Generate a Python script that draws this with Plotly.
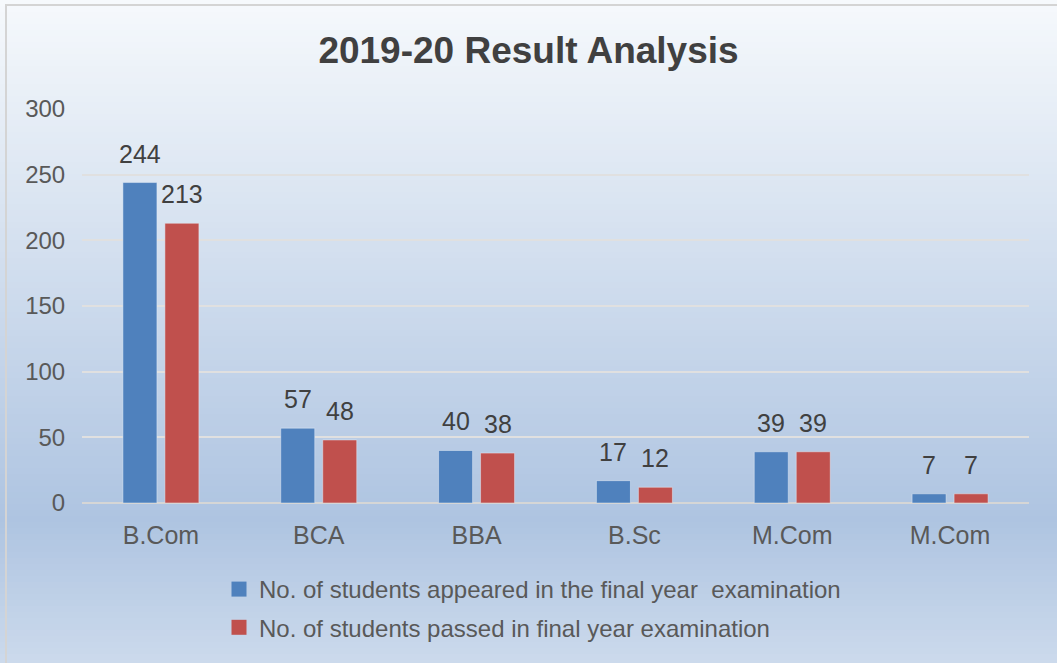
import plotly.graph_objects as go

categories = ["B.Com", "BCA", "BBA", "B.Sc", "M.Com", "M.Com"]
appeared = [244, 57, 40, 17, 39, 7]
passed = [213, 48, 38, 12, 39, 7]
series_names = [
    "No. of students appeared in the final year  examination",
    "No. of students passed in final year examination",
]
y_ticks = [0, 50, 100, 150, 200, 250, 300]

BLUE = "#4f81bd"
RED = "#c0504d"
W, H = 1057, 663
ML, MR, MT, MB = 82, 28, 109, 160
PW, PH = W - ML - MR, H - MT - MB

def px_x(px):
    return (px - ML) / PW

def px_y(py):
    return (H - MB - py) / PH

xpos = list(range(len(categories)))

fig = go.Figure()
fig.add_trace(go.Bar(x=xpos, y=appeared, name=series_names[0], marker_color=BLUE,
                     showlegend=False))
fig.add_trace(go.Bar(x=xpos, y=passed, name=series_names[1], marker_color=RED,
                     showlegend=False))
# legend entries with square markers
for name, col, grp in ((series_names[0], BLUE, "a"), (series_names[1], RED, "b")):
    fig.add_trace(go.Scatter(x=[None], y=[None], mode="markers", name=name,
                             marker=dict(symbol="square", size=15, color=col),
                             legendgroup=grp, showlegend=True))

annotations = []
for series, shift in ((appeared, -21), (passed, 21)):
    for xi, v in zip(xpos, series):
        annotations.append(dict(x=xi, y=v, xref="x", yref="y", text=str(v), showarrow=False,
                                xshift=shift, yshift=29, yanchor="middle",
                                font=dict(size=25, color="#404040")))

# background gradient
stops = [(0, (246, 249, 252)), (520, (174, 196, 225)), (663, (204, 218, 236))]
def color_at(py):
    for (p0, c0), (p1, c1) in zip(stops[:-1], stops[1:]):
        if p0 <= py <= p1:
            t = (py - p0) / (p1 - p0)
            return "rgb(%d,%d,%d)" % tuple(round(a + (b - a) * t) for a, b in zip(c0, c1))
    return "rgb(%d,%d,%d)" % stops[-1][1]

shapes = []
step = 6
for py in range(0, H, step):
    shapes.append(dict(type="rect", xref="paper", yref="paper", layer="below",
                       x0=px_x(-5), x1=px_x(W + 5), y0=px_y(py + step + 0.5), y1=px_y(py),
                       fillcolor=color_at(py + step / 2), line=dict(width=0)))
shapes.append(dict(type="rect", xref="paper", yref="paper", layer="above",
                   x0=px_x(6), x1=px_x(W + 20), y0=px_y(H + 20), y1=px_y(5),
                   fillcolor="rgba(0,0,0,0)", line=dict(color="#d4d4d4", width=2)))

fig.update_layout(
    width=W, height=H,
    margin=dict(l=ML, r=MR, t=MT, b=MB, autoexpand=False),
    paper_bgcolor="#f6f9fc",
    plot_bgcolor="rgba(0,0,0,0)",
    font=dict(family="Liberation Sans, Arial, sans-serif", color="#595959"),
    title=dict(text="<b>2019-20 Result Analysis</b>", x=0.5, xanchor="center",
               y=1 - 50 / H, yanchor="middle", yref="container",
               font=dict(size=37, color="#404040")),
    barmode="group", bargap=0.468, bargroupgap=0.19,
    xaxis=dict(tickvals=xpos, ticktext=categories, range=[-0.5, len(categories) - 0.5],
               showgrid=False, zeroline=False, showline=False,
               ticks="outside", ticklen=10, tickcolor="rgba(0,0,0,0)",
               tickfont=dict(size=25, color="#595959"), fixedrange=True),
    yaxis=dict(range=[0, 300], tickvals=y_ticks, showgrid=True, gridcolor="#e0e0e0",
               gridwidth=2, zeroline=True, zerolinecolor="#d6d6d6", zerolinewidth=2,
               ticks="outside", ticklen=11, tickcolor="rgba(0,0,0,0)",
               tickfont=dict(size=24, color="#595959"), fixedrange=True),
    legend=dict(x=px_x(219), y=px_y(567), xanchor="left", yanchor="top",
                orientation="v", traceorder="grouped", tracegroupgap=4,
                bgcolor="rgba(0,0,0,0)", font=dict(size=24, color="#595959"),
                itemwidth=30),
    annotations=annotations,
    shapes=shapes,
)

fig.write_html("out.html", config={"displayModeBar": False},
               post_script="document.body.style.margin='0px';")
